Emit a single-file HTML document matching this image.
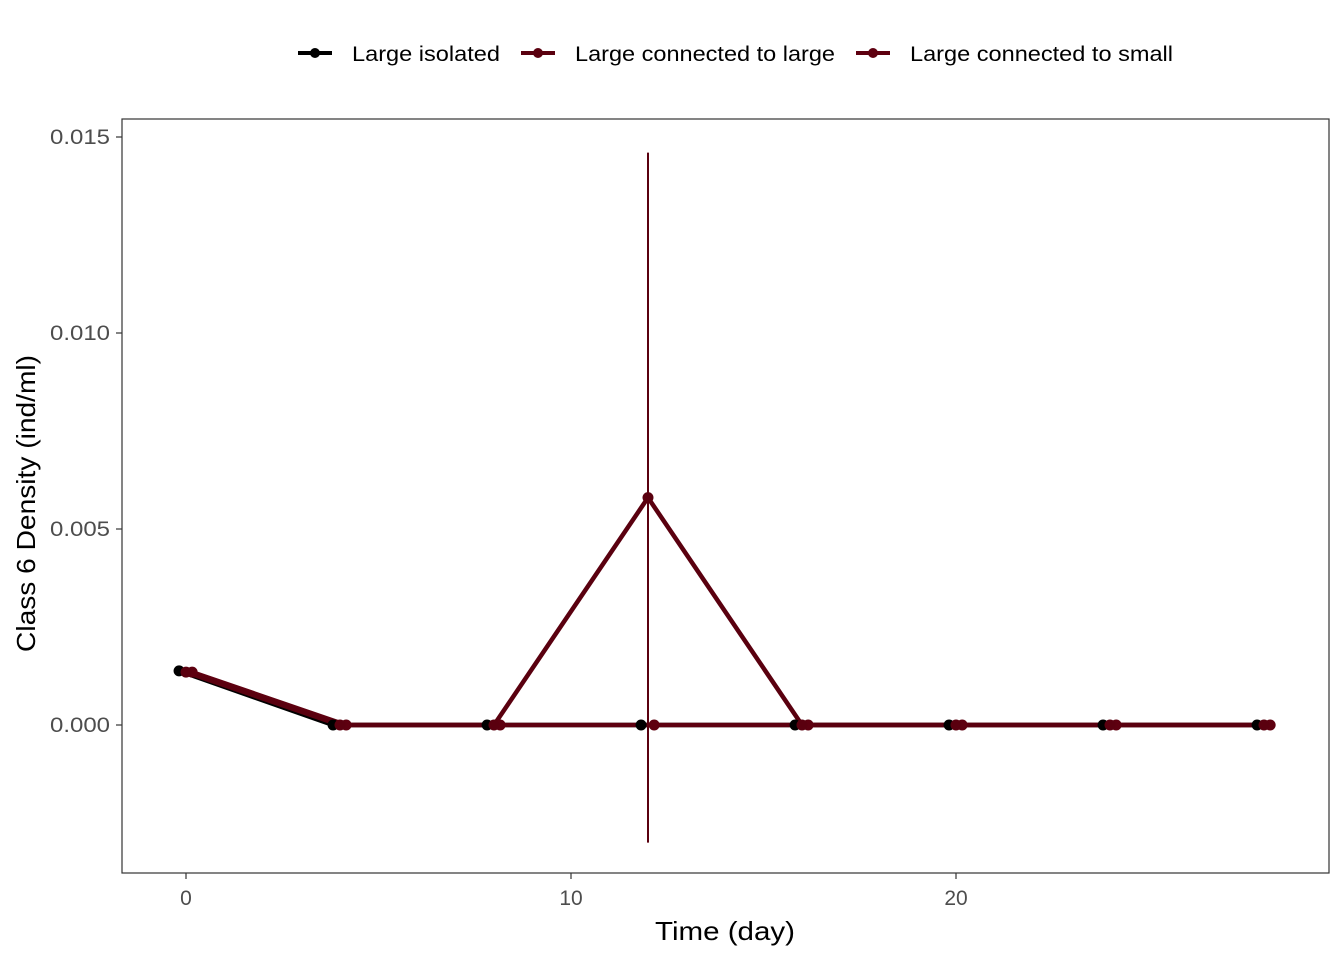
<!DOCTYPE html>
<html><head><meta charset="utf-8"><style>
body{margin:0;background:#fff;}
svg text{font-family:"Liberation Sans",Arial,sans-serif;}
</style></head><body>
<svg id="chart" width="1344" height="960" xmlns="http://www.w3.org/2000/svg">
<rect width="1344" height="960" fill="#fff"/>
<g id="legend">
 <g>
  <line x1="298" y1="53" x2="332" y2="53" stroke="#000" stroke-width="4"/>
  <circle cx="315" cy="53" r="5" fill="#000"/>
  <text x="352" y="61" font-size="21" fill="#000" textLength="148" lengthAdjust="spacingAndGlyphs">Large isolated</text>
 </g>
 <g>
  <line x1="521" y1="53" x2="555" y2="53" stroke="#5a000f" stroke-width="4"/>
  <circle cx="538" cy="53" r="5" fill="#5a000f"/>
  <text x="575" y="61" font-size="21" fill="#000" textLength="260" lengthAdjust="spacingAndGlyphs">Large connected to large</text>
 </g>
 <g>
  <line x1="856" y1="53" x2="890" y2="53" stroke="#5e0010" stroke-width="4"/>
  <circle cx="873" cy="53" r="5" fill="#5e0010"/>
  <text x="910" y="61" font-size="21" fill="#000" textLength="263" lengthAdjust="spacingAndGlyphs">Large connected to small</text>
 </g>
</g>
<rect x="122" y="119" width="1207" height="754" fill="none" stroke="#333" stroke-width="1.2"/>
<g id="axes"></g>
<g id="marks"></g>
<text x="655" y="940" font-size="26" fill="#000" textLength="140" lengthAdjust="spacingAndGlyphs">Time (day)</text>
<text transform="translate(35,652) rotate(-90)" font-size="26" fill="#000" textLength="297" lengthAdjust="spacingAndGlyphs">Class 6 Density (ind/ml)</text>
</svg>
<script>
const days = [0,4,8,12,16,20,24,28];
const isolated = [0.00138,0,0,0,0,0,0,0];
const connLarge = [0.00135,0,0,0.0058,0,0,0,0];
const connSmall = [0.00135,0,0,0,0,0,0,0];
const errLow = [null,null,null,-0.003,null,null,null,null];
const errHigh = [null,null,null,0.0146,null,null,null,null];
const xTicks = [0,10,20];
const yTicks = [0,0.005,0.010,0.015];
const yTickLabels = ["0.000","0.005","0.010","0.015"];

const NS="http://www.w3.org/2000/svg";
const xs = d => 186 + d*38.5;
const ys = v => 725 - v*39200;
function mk(tag,attrs,parent){const e=document.createElementNS(NS,tag);for(const k in attrs)e.setAttribute(k,attrs[k]);parent.appendChild(e);return e;}
const axes=document.getElementById('axes'), marks=document.getElementById('marks');
xTicks.forEach(t=>{
  const l=mk('line',{x1:xs(t),x2:xs(t),y1:873,y2:879,stroke:'#333','stroke-width':1.2},axes);
  
  
  const tx=mk('text',{x:xs(t),y:905,'font-size':21,'text-anchor':'middle',fill:'#4d4d4d'},axes);
  tx.textContent=t;
  
  
});
yTicks.forEach((t,i)=>{
  const l=mk('line',{x1:116,x2:122,y1:ys(t),y2:ys(t),stroke:'#333','stroke-width':1.2},axes);
  
  
  const tx=mk('text',{x:110,y:ys(t)+7,'font-size':21,'text-anchor':'end',fill:'#4d4d4d',textLength:60,lengthAdjust:'spacingAndGlyphs'},axes);
  tx.textContent=yTickLabels[i];
  
  
});
const series=[
  {vals:isolated,off:-0.18,col:'#000',name:'large-isolated'},
  {vals:connSmall,off:0.16,col:'#5e0010',name:'large-connected-to-small'},
  {vals:connLarge,off:0,col:'#5a000f',name:'large-connected-to-large'}
];
series.forEach(s=>{
  const pts=days.map((d,i)=>xs(d+s.off)+','+ys(s.vals[i])).join(' ');
  const pl=mk('polyline',{points:pts,fill:'none',stroke:s.col,'stroke-width':4.5,'stroke-linejoin':'round'},marks);
  
  
});
series.forEach(s=>{
  days.forEach((d,i)=>{
    const c=mk('circle',{cx:xs(d+s.off),cy:ys(s.vals[i]),r:5.5,fill:s.col},marks);
    
    
  });
});
days.forEach((d,i)=>{
  if(errLow[i]===null)return;
  const e=mk('line',{x1:xs(d),x2:xs(d),y1:ys(errHigh[i]),y2:ys(errLow[i]),stroke:'#5a000f','stroke-width':2},marks);
  
  
});
</script>
</body></html>
